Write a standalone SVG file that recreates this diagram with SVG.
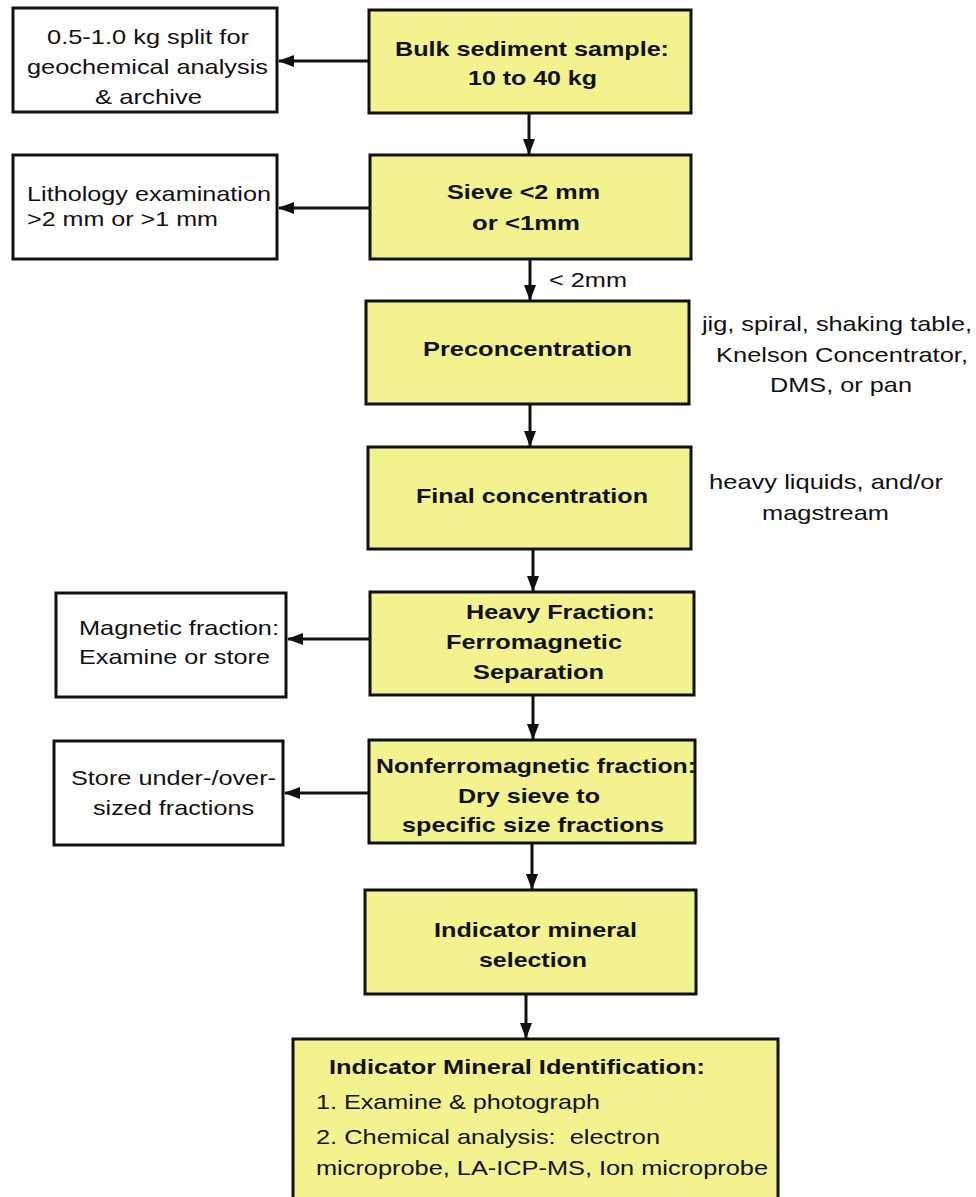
<svg xmlns="http://www.w3.org/2000/svg" width="976" height="1197" viewBox="0 0 976 1197">
<style>
.y{fill:#f2f28e;stroke:#111;stroke-width:3}
.w{fill:#fff;stroke:#111;stroke-width:3}
text{font-family:"Liberation Sans",Arial,sans-serif;font-size:21px;fill:#111}
.b{font-weight:bold}
.c line{stroke:#111;stroke-width:3;marker-end:url(#ah)}
</style>
<defs>
<marker id="ah" markerWidth="16" markerHeight="12" refX="15" refY="6" orient="auto" markerUnits="userSpaceOnUse">
<path d="M0,0 L16,6 L0,12 Z" fill="#111"/>
</marker>
</defs>
<rect width="976" height="1197" fill="#fff"/>
<g id="n1"><rect class="y" x="369" y="10" width="322" height="103"/>
<text class="b" x="395" y="56" textLength="274" lengthAdjust="spacingAndGlyphs">Bulk sediment sample:</text>
<text class="b" x="468" y="85" textLength="129" lengthAdjust="spacingAndGlyphs">10 to 40 kg</text></g>
<g id="s1"><rect class="w" x="13" y="8" width="264" height="104"/>
<text x="47" y="44" textLength="202" lengthAdjust="spacingAndGlyphs">0.5-1.0 kg split for</text>
<text x="27" y="74" textLength="241" lengthAdjust="spacingAndGlyphs">geochemical analysis</text>
<text x="95" y="104" textLength="107" lengthAdjust="spacingAndGlyphs">&amp; archive</text></g>
<g id="n2"><rect class="y" x="370" y="155" width="321" height="104"/>
<text class="b" x="447" y="199" textLength="153" lengthAdjust="spacingAndGlyphs">Sieve &lt;2 mm</text>
<text class="b" x="472" y="230" textLength="108" lengthAdjust="spacingAndGlyphs">or &lt;1mm</text></g>
<g id="s2"><rect class="w" x="13" y="155" width="264" height="104"/>
<text x="27" y="201" textLength="244" lengthAdjust="spacingAndGlyphs">Lithology examination</text>
<text x="27" y="226" textLength="191" lengthAdjust="spacingAndGlyphs">&gt;2 mm or &gt;1 mm</text></g>
<g id="n3"><rect class="y" x="366" y="301" width="323" height="103"/>
<text class="b" x="423" y="356" textLength="209" lengthAdjust="spacingAndGlyphs">Preconcentration</text></g>
<g id="t3"><text x="702" y="331" textLength="270" lengthAdjust="spacingAndGlyphs">jig, spiral, shaking table,</text>
<text x="716" y="362" textLength="252" lengthAdjust="spacingAndGlyphs">Knelson Concentrator,</text>
<text x="770" y="392" textLength="142" lengthAdjust="spacingAndGlyphs">DMS, or pan</text></g>
<g id="n4"><rect class="y" x="368" y="447" width="323" height="102"/>
<text class="b" x="416" y="503" textLength="232" lengthAdjust="spacingAndGlyphs">Final concentration</text></g>
<g id="t4"><text x="709" y="489" textLength="234" lengthAdjust="spacingAndGlyphs">heavy liquids, and/or</text>
<text x="762" y="520" textLength="127" lengthAdjust="spacingAndGlyphs">magstream</text></g>
<g id="n5"><rect class="y" x="370" y="592" width="324" height="103"/>
<text class="b" x="466" y="619" textLength="189" lengthAdjust="spacingAndGlyphs">Heavy Fraction:</text>
<text class="b" x="446" y="649" textLength="176" lengthAdjust="spacingAndGlyphs">Ferromagnetic</text>
<text class="b" x="473" y="679" textLength="131" lengthAdjust="spacingAndGlyphs">Separation</text></g>
<g id="s5"><rect class="w" x="56" y="593" width="230" height="104"/>
<text x="79" y="635" textLength="200" lengthAdjust="spacingAndGlyphs">Magnetic fraction:</text>
<text x="79" y="664" textLength="191" lengthAdjust="spacingAndGlyphs">Examine or store</text></g>
<g id="n6"><rect class="y" x="369" y="740" width="326" height="103"/>
<text class="b" x="376" y="773" textLength="320" lengthAdjust="spacingAndGlyphs">Nonferromagnetic fraction:</text>
<text class="b" x="458" y="803" textLength="142" lengthAdjust="spacingAndGlyphs">Dry sieve to</text>
<text class="b" x="402" y="832" textLength="262" lengthAdjust="spacingAndGlyphs">specific size fractions</text></g>
<g id="s6"><rect class="w" x="54" y="741" width="229" height="104"/>
<text x="71" y="785" textLength="205" lengthAdjust="spacingAndGlyphs">Store under-/over-</text>
<text x="93" y="815" textLength="161" lengthAdjust="spacingAndGlyphs">sized fractions</text></g>
<g id="n7"><rect class="y" x="365" y="890" width="331" height="104"/>
<text class="b" x="434" y="937" textLength="203" lengthAdjust="spacingAndGlyphs">Indicator mineral</text>
<text class="b" x="479" y="967" textLength="108" lengthAdjust="spacingAndGlyphs">selection</text></g>
<g id="n8"><rect class="y" x="293" y="1039" width="485" height="170"/>
<text class="b" x="329" y="1074" textLength="376" lengthAdjust="spacingAndGlyphs">Indicator Mineral Identification:</text>
<text x="316" y="1109" textLength="284" lengthAdjust="spacingAndGlyphs">1. Examine &amp; photograph</text>
<text x="316" y="1144" xml:space="preserve" textLength="344" lengthAdjust="spacingAndGlyphs">2. Chemical analysis:  electron</text>
<text x="316" y="1175" textLength="452" lengthAdjust="spacingAndGlyphs">microprobe, LA-ICP-MS, Ion microprobe</text></g>
<g id="connectors" class="c">
<line x1="369" y1="61" x2="279" y2="61"/>
<line x1="529" y1="113" x2="529" y2="154"/>
<line x1="370" y1="208" x2="279" y2="208"/>
<line x1="530" y1="259" x2="530" y2="300"/>
<line x1="530" y1="404" x2="530" y2="446"/>
<line x1="533" y1="549" x2="533" y2="591"/>
<line x1="370" y1="639" x2="288" y2="639"/>
<line x1="533" y1="695" x2="533" y2="739"/>
<line x1="369" y1="793" x2="285" y2="793"/>
<line x1="532" y1="843" x2="532" y2="889"/>
<line x1="526" y1="994" x2="526" y2="1038"/>
</g>
<text x="549" y="287" textLength="78" lengthAdjust="spacingAndGlyphs">&lt; 2mm</text>
</svg>
